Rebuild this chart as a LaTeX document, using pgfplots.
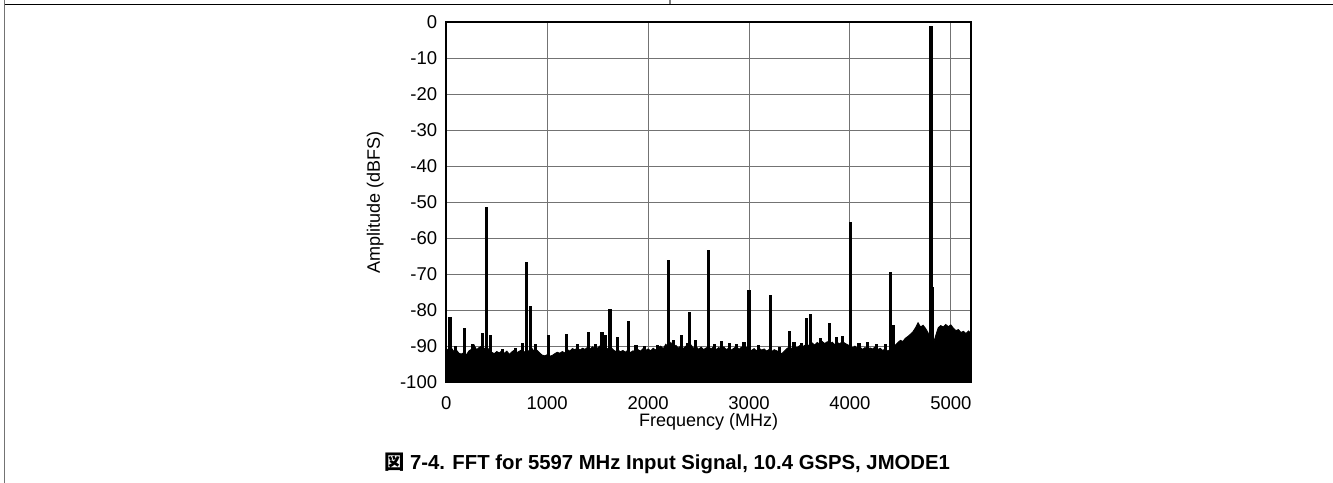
\documentclass[border=0pt]{standalone}
\usepackage{pgfplots}
\pgfplotsset{compat=1.18}
\usepackage{pgfplotstable}
\usepackage{fontspec}
\setmainfont{Liberation Sans}
\newfontfamily\cjk{Noto Sans CJK JP}

% noise floor (MHz, dBFS), closed down to -100
\pgfplotstableread{
x y
0 -100
0 -90.6
25 -91.2
50 -90.4
75 -91.4
100 -91.0
125 -91.9
150 -92.1
175 -91.7
200 -92.3
225 -91.2
250 -90.8
275 -89.6
300 -90.9
325 -90.3
350 -89.9
375 -90.6
400 -90.2
425 -90.9
450 -91.6
475 -92.0
500 -91.4
525 -91.8
550 -91.2
575 -91.9
600 -91.3
625 -92.2
650 -91.5
675 -91.0
700 -91.7
725 -91.3
750 -90.9
775 -91.6
800 -91.0
825 -91.4
850 -90.6
875 -91.5
900 -91.1
925 -91.8
950 -92.4
975 -92.6
1000 -92.3
1025 -92.7
1050 -92.5
1075 -92.0
1100 -91.6
1125 -91.9
1150 -91.4
1175 -91.8
1200 -90.9
1225 -91.3
1250 -90.6
1275 -90.9
1300 -90.4
1325 -91.0
1350 -90.5
1375 -90.8
1400 -90.2
1425 -90.7
1450 -90.1
1475 -90.9
1500 -90.4
1525 -89.8
1550 -90.6
1575 -90.2
1600 -90.7
1625 -90.0
1650 -90.8
1675 -91.4
1700 -90.9
1725 -91.5
1750 -91.1
1775 -91.6
1800 -91.0
1825 -91.7
1850 -91.2
1875 -91.5
1900 -90.9
1925 -91.3
1950 -90.6
1975 -91.1
2000 -90.7
2025 -91.2
2050 -90.5
2075 -91.0
2100 -90.3
2125 -89.9
2150 -90.6
2175 -89.4
2200 -90.1
2225 -88.9
2250 -90.4
2275 -89.7
2300 -90.5
2325 -89.8
2350 -90.6
2375 -89.9
2400 -90.3
2425 -89.6
2450 -90.5
2475 -90.0
2500 -90.8
2525 -90.2
2550 -90.9
2575 -90.4
2600 -90.1
2625 -90.7
2650 -90.0
2675 -90.9
2700 -90.3
2725 -90.8
2750 -90.1
2775 -90.9
2800 -90.4
2825 -91.0
2850 -90.5
2875 -90.0
2900 -90.8
2925 -90.2
2950 -90.9
2975 -90.3
3000 -90.7
3025 -91.1
3050 -90.6
3075 -91.2
3100 -90.5
3125 -91.0
3150 -90.7
3175 -91.3
3200 -90.8
3225 -91.4
3250 -90.9
3275 -91.2
3300 -91.6
3325 -92.0
3350 -91.3
3375 -90.6
3400 -90.1
3425 -90.6
3450 -89.9
3475 -90.4
3500 -89.8
3525 -90.3
3550 -89.7
3575 -90.1
3600 -89.4
3625 -89.0
3650 -89.6
3675 -88.9
3700 -89.3
3725 -88.6
3750 -89.2
3775 -88.7
3800 -89.4
3825 -88.8
3850 -89.5
3875 -88.9
3900 -89.3
3925 -88.6
3950 -89.1
3975 -89.5
4000 -89.8
4025 -90.4
4050 -89.9
4075 -90.6
4100 -90.2
4125 -90.8
4150 -90.3
4175 -90.9
4200 -90.4
4225 -90.7
4250 -90.1
4275 -90.9
4300 -90.5
4325 -91.1
4350 -90.7
4375 -91.3
4400 -90.8
4425 -90.4
4450 -89.6
4475 -88.9
4500 -88.3
4525 -88.6
4550 -87.7
4575 -87.2
4600 -86.6
4625 -85.9
4650 -84.8
4675 -83.4
4700 -84.6
4725 -84.1
4750 -85.0
4775 -86.2
4800 -88.8
4825 -89.4
4850 -87.0
4875 -84.8
4900 -84.2
4925 -84.6
4950 -83.9
4975 -84.5
5000 -84.0
5025 -84.9
5050 -85.6
5075 -85.3
5100 -86.1
5125 -85.8
5150 -86.4
5175 -85.7
5200 -86.3
5200 -100
}\noisefloor

% spurs: each drawn from -100 to its peak
\pgfplotstableread{
x y
37 -100
37 -81.8
nan nan
92 -100
92 -89.8
nan nan
179 -100
179 -85.0
nan nan
262 -100
262 -89.2
nan nan
358 -100
358 -86.2
nan nan
397 -100
397 -51.2
nan nan
437 -100
437 -86.8
nan nan
560 -100
560 -90.6
nan nan
690 -100
690 -90.4
nan nan
753 -100
753 -89.0
nan nan
794 -100
794 -66.4
nan nan
832 -100
832 -78.8
nan nan
885 -100
885 -89.4
nan nan
1013 -100
1013 -86.8
nan nan
1188 -100
1188 -86.6
nan nan
1303 -100
1303 -89.3
nan nan
1405 -100
1405 -86.0
nan nan
1480 -100
1480 -89.4
nan nan
1543 -100
1543 -86.1
nan nan
1582 -100
1582 -86.8
nan nan
1622 -100
1622 -79.6
nan nan
1701 -100
1701 -87.5
nan nan
1804 -100
1804 -83.0
nan nan
1880 -100
1880 -89.6
nan nan
1965 -100
1965 -89.8
nan nan
2090 -100
2090 -89.7
nan nan
2203 -100
2203 -66.1
nan nan
2254 -100
2254 -88.3
nan nan
2333 -100
2333 -86.8
nan nan
2387 -100
2387 -89.0
nan nan
2409 -100
2409 -80.3
nan nan
2470 -100
2470 -88.2
nan nan
2600 -100
2600 -63.1
nan nan
2660 -100
2660 -89.3
nan nan
2728 -100
2728 -88.6
nan nan
2810 -100
2810 -89.1
nan nan
2880 -100
2880 -89.4
nan nan
2950 -100
2950 -88.8
nan nan
3000 -100
3000 -74.3
nan nan
3090 -100
3090 -89.6
nan nan
3215 -100
3215 -75.6
nan nan
3300 -100
3300 -90.1
nan nan
3398 -100
3398 -85.7
nan nan
3446 -100
3446 -88.7
nan nan
3520 -100
3520 -88.9
nan nan
3573 -100
3573 -82.1
nan nan
3613 -100
3613 -81.0
nan nan
3710 -100
3710 -87.6
nan nan
3795 -100
3795 -83.4
nan nan
3863 -100
3863 -87.4
nan nan
3926 -100
3926 -87.1
nan nan
4009 -100
4009 -55.5
nan nan
4090 -100
4090 -88.9
nan nan
4175 -100
4175 -88.8
nan nan
4260 -100
4260 -89.2
nan nan
4357 -100
4357 -89.3
nan nan
4406 -100
4406 -69.2
nan nan
4436 -100
4436 -84.1
nan nan
4803 -100
4803 -1.0
nan nan
4813 -100
4813 -73.5
}\spurs

\begin{document}
\begin{tikzpicture}
\path[use as bounding box] (0,0) rectangle (1333bp,483bp);
% frame of the figure
\draw[black, line width=1bp] (5bp,478.7bp) -- (1333bp,478.7bp);
\draw[black!55, line width=1.4bp] (4.6bp,0bp) -- (4.6bp,483bp);
\draw[black!50, line width=1.2bp] (670bp,483bp) -- (670bp,478.7bp);

\begin{axis}[
  at={(446.3bp,100.5bp)}, anchor=south west,
  scale only axis, width=524.7bp, height=360bp,
  xmin=0, xmax=5200, ymin=-100, ymax=0,
  xtick={0,1000,2000,3000,4000,5000},
  xticklabels={0,1000,2000,3000,4000,5000},
  ytick={-100,-90,-80,-70,-60,-50,-40,-30,-20,-10,0},
  yticklabels={-100,-90,-80,-70,-60,-50,-40,-30,-20,-10,0},
  major tick length=0pt,
  grid=major,
  major grid style={black!55, line width=1bp},
  axis line style={black, line width=2bp},
  unbounded coords=jump,
  tick label style={font=\fontsize{18.5bp}{22bp}\selectfont, inner sep=0pt},
  yticklabel style={anchor=east, xshift=-9bp},
  xticklabel style={anchor=north, yshift=-13.5bp},
  label style={font=\fontsize{18bp}{22bp}\selectfont},
  xlabel={Frequency (MHz)},
  ylabel={Amplitude (dBFS)},
  xlabel style={at={(rel axis cs:0.5,0)}, anchor=center, yshift=-39bp},
  ylabel style={at={(rel axis cs:0,0.5)}, anchor=center, yshift=71bp},
]
\addplot[fill=black, draw=black, line width=0.9bp, mark=none] table {\noisefloor};
\addplot[black, line width=3.1bp, mark=none] table {\spurs};
\end{axis}

\node[font=\fontsize{20.3bp}{24bp}\selectfont\bfseries] at (667bp,20bp)
  {{\cjk\bfseries 図} 7-4. FFT for 5597 MHz Input Signal, 10.4 GSPS, JMODE1};
\end{tikzpicture}
\end{document}
